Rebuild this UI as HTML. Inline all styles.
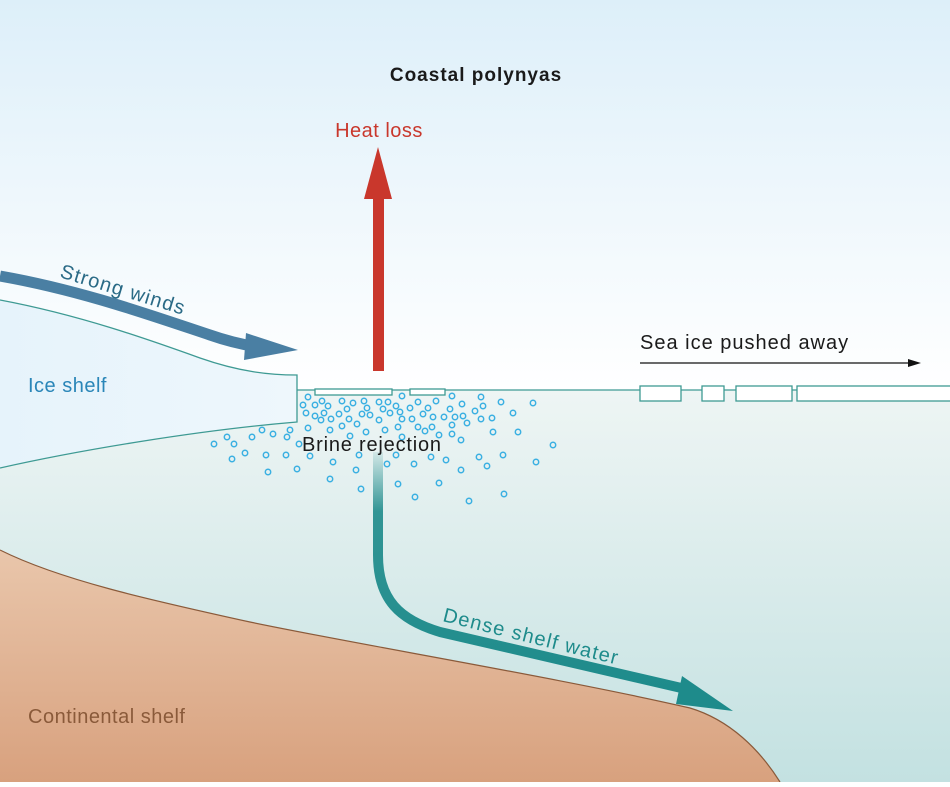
<!DOCTYPE html>
<html><head><meta charset="utf-8"><style>
html,body{margin:0;padding:0;}
body{width:950px;height:782px;overflow:hidden;font-family:"Liberation Sans","DejaVu Sans",sans-serif;}
</style></head><body>
<svg width="950" height="782" viewBox="0 0 950 782" xmlns="http://www.w3.org/2000/svg">
<defs>
<linearGradient id="sky" x1="0" y1="0" x2="0" y2="1">
<stop offset="0" stop-color="#ddeff9"/><stop offset="1" stop-color="#ffffff"/></linearGradient>
<linearGradient id="sea" x1="0" y1="0" x2="0" y2="1">
<stop offset="0" stop-color="#eef5f4"/><stop offset="1" stop-color="#c3e1e1"/></linearGradient>
<linearGradient id="land" x1="0" y1="0" x2="0" y2="1">
<stop offset="0" stop-color="#e9c6ab"/><stop offset="1" stop-color="#d8a17e"/></linearGradient>
<linearGradient id="ice" x1="0" y1="0" x2="1" y2="0">
<stop offset="0" stop-color="#e6f3fb"/><stop offset="1" stop-color="#eef7fc"/></linearGradient>
<linearGradient id="dsw" x1="0" y1="0" x2="0" y2="1">
<stop offset="0" stop-color="#1e8b8b" stop-opacity="0.1"/><stop offset="0.25" stop-color="#1e8b8b" stop-opacity="0.9"/><stop offset="1" stop-color="#1e8b8b"/></linearGradient>
</defs>
<rect width="950" height="390" fill="url(#sky)"/>
<rect y="390" width="950" height="392" fill="url(#sea)"/>
<path d="M0,550 C60,580 150,600 250,622 C360,645 560,678 690,708 C730,720 760,750 780,782 L0,782 Z" fill="url(#land)"/>
<path d="M0,550 C60,580 150,600 250,622 C360,645 560,678 690,708 C730,720 760,750 780,782" fill="none" stroke="#8a5a3a" stroke-width="1.2"/>
<!-- ice shelf -->
<path d="M0,300 C80,315 150,340 200,358 C240,372 270,375 297,375 L297,422 C200,430 80,450 0,468 Z" fill="url(#ice)"/>
<path d="M0,300 C80,315 150,340 200,358 C240,372 270,375 297,375 L297,422 C200,430 80,450 0,468" fill="none" stroke="#3e9a93" stroke-width="1.3"/>
<line x1="297" y1="390" x2="950" y2="390" stroke="#3e9a93" stroke-width="1.3"/>
<g fill="#ffffff" stroke="#3e9a93" stroke-width="1.3">
<rect x="315" y="389" width="77" height="6"/><rect x="410" y="389" width="35" height="6"/>
<rect x="640" y="386" width="41" height="15"/><rect x="702" y="386" width="22" height="15"/>
<rect x="736" y="386" width="56" height="15"/><rect x="797" y="386" width="160" height="15"/>
</g>
<g fill="none" stroke="#3bb0e2" stroke-width="1.5">
<circle cx="308" cy="397" r="2.7"/><circle cx="303" cy="405" r="2.7"/><circle cx="315" cy="405" r="2.7"/><circle cx="322" cy="401" r="2.7"/><circle cx="328" cy="406" r="2.7"/><circle cx="306" cy="413" r="2.7"/><circle cx="315" cy="416" r="2.7"/><circle cx="324" cy="413" r="2.7"/><circle cx="321" cy="420" r="2.7"/><circle cx="331" cy="419" r="2.7"/><circle cx="342" cy="401" r="2.7"/><circle cx="353" cy="403" r="2.7"/><circle cx="347" cy="409" r="2.7"/><circle cx="339" cy="414" r="2.7"/><circle cx="349" cy="419" r="2.7"/><circle cx="364" cy="401" r="2.7"/><circle cx="367" cy="408" r="2.7"/><circle cx="362" cy="414" r="2.7"/><circle cx="370" cy="415" r="2.7"/><circle cx="379" cy="402" r="2.7"/><circle cx="388" cy="402" r="2.7"/><circle cx="383" cy="409" r="2.7"/><circle cx="396" cy="406" r="2.7"/><circle cx="390" cy="413" r="2.7"/><circle cx="379" cy="420" r="2.7"/><circle cx="402" cy="396" r="2.7"/><circle cx="400" cy="412" r="2.7"/><circle cx="402" cy="419" r="2.7"/><circle cx="410" cy="408" r="2.7"/><circle cx="418" cy="402" r="2.7"/><circle cx="428" cy="408" r="2.7"/><circle cx="423" cy="414" r="2.7"/><circle cx="412" cy="419" r="2.7"/><circle cx="436" cy="401" r="2.7"/><circle cx="433" cy="417" r="2.7"/><circle cx="452" cy="396" r="2.7"/><circle cx="450" cy="409" r="2.7"/><circle cx="462" cy="404" r="2.7"/><circle cx="444" cy="417" r="2.7"/><circle cx="455" cy="417" r="2.7"/><circle cx="463" cy="416" r="2.7"/><circle cx="467" cy="423" r="2.7"/><circle cx="475" cy="411" r="2.7"/><circle cx="481" cy="397" r="2.7"/><circle cx="483" cy="406" r="2.7"/><circle cx="481" cy="419" r="2.7"/><circle cx="492" cy="418" r="2.7"/><circle cx="501" cy="402" r="2.7"/><circle cx="513" cy="413" r="2.7"/><circle cx="533" cy="403" r="2.7"/><circle cx="493" cy="432" r="2.7"/><circle cx="518" cy="432" r="2.7"/><circle cx="553" cy="445" r="2.7"/><circle cx="536" cy="462" r="2.7"/><circle cx="503" cy="455" r="2.7"/><circle cx="487" cy="466" r="2.7"/><circle cx="479" cy="457" r="2.7"/><circle cx="461" cy="440" r="2.7"/><circle cx="461" cy="470" r="2.7"/><circle cx="446" cy="460" r="2.7"/><circle cx="431" cy="457" r="2.7"/><circle cx="452" cy="434" r="2.7"/><circle cx="452" cy="425" r="2.7"/><circle cx="439" cy="435" r="2.7"/><circle cx="425" cy="431" r="2.7"/><circle cx="432" cy="427" r="2.7"/><circle cx="418" cy="427" r="2.7"/><circle cx="398" cy="427" r="2.7"/><circle cx="402" cy="437" r="2.7"/><circle cx="385" cy="430" r="2.7"/><circle cx="366" cy="432" r="2.7"/><circle cx="357" cy="424" r="2.7"/><circle cx="342" cy="426" r="2.7"/><circle cx="350" cy="436" r="2.7"/><circle cx="330" cy="430" r="2.7"/><circle cx="308" cy="428" r="2.7"/><circle cx="290" cy="430" r="2.7"/><circle cx="287" cy="437" r="2.7"/><circle cx="273" cy="434" r="2.7"/><circle cx="262" cy="430" r="2.7"/><circle cx="252" cy="437" r="2.7"/><circle cx="227" cy="437" r="2.7"/><circle cx="234" cy="444" r="2.7"/><circle cx="214" cy="444" r="2.7"/><circle cx="232" cy="459" r="2.7"/><circle cx="245" cy="453" r="2.7"/><circle cx="266" cy="455" r="2.7"/><circle cx="286" cy="455" r="2.7"/><circle cx="299" cy="444" r="2.7"/><circle cx="297" cy="469" r="2.7"/><circle cx="310" cy="456" r="2.7"/><circle cx="268" cy="472" r="2.7"/><circle cx="333" cy="462" r="2.7"/><circle cx="330" cy="479" r="2.7"/><circle cx="356" cy="470" r="2.7"/><circle cx="359" cy="455" r="2.7"/><circle cx="361" cy="489" r="2.7"/><circle cx="396" cy="455" r="2.7"/><circle cx="387" cy="464" r="2.7"/><circle cx="398" cy="484" r="2.7"/><circle cx="414" cy="464" r="2.7"/><circle cx="415" cy="497" r="2.7"/><circle cx="439" cy="483" r="2.7"/><circle cx="469" cy="501" r="2.7"/><circle cx="504" cy="494" r="2.7"/>
</g>
<!-- dense shelf water -->
<path d="M378,452 L378,555 C378,600 400,620 440,632 L690,690" fill="none" stroke="url(#dsw)" stroke-width="10"/>
<polygon points="682,676 733,711 676,704" fill="#1e8b8b"/>
<!-- wind -->
<path d="M0,276 C80,290 150,315 210,335 C230,342 245,345 258,347" fill="none" stroke="#4a7fa3" stroke-width="11"/>
<polygon points="246,333 298,350 244,360" fill="#4a7fa3"/>
<!-- heat -->
<rect x="373" y="195" width="11" height="176" fill="#c9372c"/>
<polygon points="364,199 392,199 378,147" fill="#c9372c"/>
<!-- sea ice arrow -->
<line x1="640" y1="363" x2="912" y2="363" stroke="#111" stroke-width="1.3"/>
<polygon points="908,359 921,363 908,367" fill="#111"/>
<g font-family="'Liberation Sans','DejaVu Sans',sans-serif">
<text x="476" y="81" text-anchor="middle" font-size="19" font-weight="bold" fill="#1a1a1a" letter-spacing="1">Coastal polynyas</text>
<text x="379" y="137" text-anchor="middle" font-size="20" fill="#c9372c" letter-spacing="0.5">Heat loss</text>
<text x="0" y="0" font-size="20" fill="#2a6a86" letter-spacing="1.2" transform="translate(59,277) rotate(17)">Strong winds</text>
<text x="28" y="392" font-size="20" fill="#2a86b8" letter-spacing="0.5">Ice shelf</text>
<text x="640" y="349" font-size="20" fill="#1a1a1a" letter-spacing="1">Sea ice pushed away</text>
<text x="302" y="451" font-size="20" fill="#1a1a1a" letter-spacing="0.8">Brine rejection</text>
<text x="0" y="0" font-size="20" fill="#1e8b8b" letter-spacing="1.2" transform="translate(442,621) rotate(14)">Dense shelf water</text>
<text x="28" y="723" font-size="20" fill="#8a5a3a" letter-spacing="0.5">Continental shelf</text>
</g>
</svg>
</body></html>
